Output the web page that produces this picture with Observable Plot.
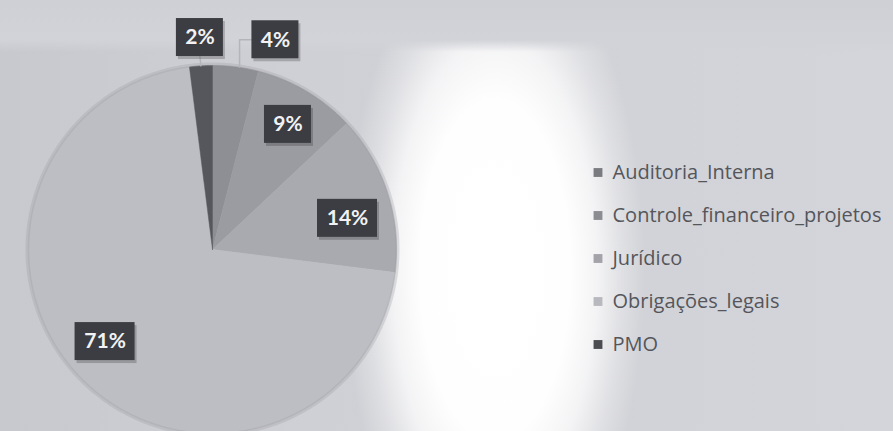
<!DOCTYPE html>
<html><head><meta charset="utf-8">
<script src="https://cdn.jsdelivr.net/npm/d3@7"></script>
<script src="https://cdn.jsdelivr.net/npm/@observablehq/plot@0.6"></script>
<style>
html,body{margin:0;padding:0;width:893px;height:431px;overflow:hidden;}
body{background:
  linear-gradient(to bottom, #cfd0d5 0px, #d2d3d8 40px, rgba(210,211,216,0) 52px),
  radial-gradient(ellipse 150px 340px at 495px 270px, #ffffff 0%, #fefeff 50%, rgba(255,255,255,0.75) 68%, rgba(255,255,255,0.3) 85%, rgba(255,255,255,0) 100%),
  linear-gradient(to right, #c8c9cf 0px, #cfd0d5 300px, #d4d5da 893px);}
#chart{position:relative;width:893px;height:431px;}
#chart svg{overflow:visible;}
</style></head><body><div id="chart"></div>
<script>
// ---- data ----
const categories = ["Auditoria_Interna", "Controle_financeiro_projetos", "Jurídico", "Obrigações_legais", "PMO"];
const percents = [4, 9, 14, 71, 2];
const labels = ["4%", "9%", "14%", "71%", "2%"];
const colors = ["#8e8f95", "#9b9ca2", "#a9aab0", "#bdbec4", "#55575d"];
const legendColors = ["#7a7b81", "#8c8d93", "#a3a4aa", "#b8b9be", "#4b4d53"];

// ---- layout ----
const W = 893, H = 431;
const CX = 212, CY = 249, R = 184;
const toX = px => (px - CX) / R, toY = py => (CY - py) / R;
const labelRadius = [1.19, 0.794, 0.753, 0.769, 1.154];
const labelAngleShift = [9.5, 0.5, 5, 4.4, 0.2];
const boxH = 38;

const total = d3.sum(percents);
const slices = [];
let acc = 0;
categories.forEach((c, i) => {
  const a0 = acc / total * 2 * Math.PI;
  acc += percents[i];
  const a1 = acc / total * 2 * Math.PI;
  slices.push({c, i, a0, a1, mid: (a0 + a1) / 2});
});

// slice outlines (center -> arc -> center)
const piePts = [];
for (const s of slices) {
  piePts.push({c: s.c, x: 0, y: 0});
  const n = Math.max(2, Math.ceil((s.a1 - s.a0) / (Math.PI / 360)));
  for (let k = 0; k <= n; k++) {
    const a = s.a0 + (s.a1 - s.a0) * k / n;
    piePts.push({c: s.c, x: Math.sin(a), y: Math.cos(a)});
  }
  piePts.push({c: s.c, x: 0, y: 0});
}
// rim (soft edge)
const rim = d3.range(0, 721).map(k => ({x: Math.sin(k * Math.PI / 360), y: Math.cos(k * Math.PI / 360)}));

// labels
const lab = slices.map(s => {
  const a = s.mid + labelAngleShift[s.i] * Math.PI / 180;
  const r = labelRadius[s.i];
  const text = labels[s.i];
  const wpx = 13 * text.length + 21;
  const x = r * Math.sin(a), y = r * Math.cos(a);
  return {text, x, y, x1: x - wpx / 2 / R, x2: x + wpx / 2 / R, y1: y - boxH / 2 / R, y2: y + boxH / 2 / R, s};
});

// leader lines for outside labels
const leaders = [];
lab.forEach(l => {
  if (labelRadius[l.s.i] <= 1) return;
  const rx = Math.sin(l.s.mid), ry = Math.cos(l.s.mid);
  if (rx > 0.05) {
    leaders.push({k: l.text, x: l.x1, y: l.y});
    leaders.push({k: l.text, x: rx + 4 / R, y: l.y});
    leaders.push({k: l.text, x: rx + 4 / R, y: ry});
  } else {
    leaders.push({k: l.text, x: l.x, y: l.y1});
    leaders.push({k: l.text, x: rx, y: ry});
  }
});

// legend
const legX = toX(597.5), legTextX = toX(612);
const legend = categories.map((c, i) => ({c, x: legX, tx: legTextX, y: toY(172 + i * 43)}));

const plot = Plot.plot({
  width: W, height: H,
  margin: 0,
  style: {background: "transparent", overflow: "visible"},
  x: {domain: [-1, 1], range: [CX - R, CX + R], axis: null},
  y: {domain: [-1, 1], range: [CY + R, CY - R], axis: null},
  color: {domain: categories, range: colors},
  marks: [
    Plot.line(rim, {x: "x", y: "y", stroke: "#9a9ba1", strokeWidth: 6, strokeOpacity: 0.3}),
    Plot.line(piePts, {x: "x", y: "y", z: "c", fill: "c", stroke: "c", strokeWidth: 0.5, curve: "linear"}),
    Plot.line(rim, {x: "x", y: "y", stroke: "#8a8b91", strokeWidth: 1.5, strokeOpacity: 0.2}),
    Plot.line(leaders, {x: "x", y: "y", z: "k", stroke: "#b4b5ba", strokeWidth: 1.5}),
    Plot.rect(lab, {x1: "x1", x2: "x2", y1: "y1", y2: "y2", fill: "#000", fillOpacity: 0.2, dx: 2, dy: 3}),
    Plot.rect(lab, {x1: "x1", x2: "x2", y1: "y1", y2: "y2", fill: "#3b3d43"}),
    Plot.text(lab, {x: "x", y: "y", text: "text", fill: "#f2f2f4", fontSize: 21, fontWeight: "bold", fontFamily: "Lato, 'Open Sans', sans-serif"}),
    Plot.dot(legend, {x: "x", y: "y", symbol: "square", r: 5, fill: (d, i) => legendColors[i], stroke: "none"}),
    Plot.text(legend, {x: "tx", y: "y", text: "c", textAnchor: "start", fill: "#55565b", fontSize: 20, fontFamily: "'Open Sans', sans-serif"})
  ]
});
document.getElementById("chart").appendChild(plot);
</script>
</body></html>
